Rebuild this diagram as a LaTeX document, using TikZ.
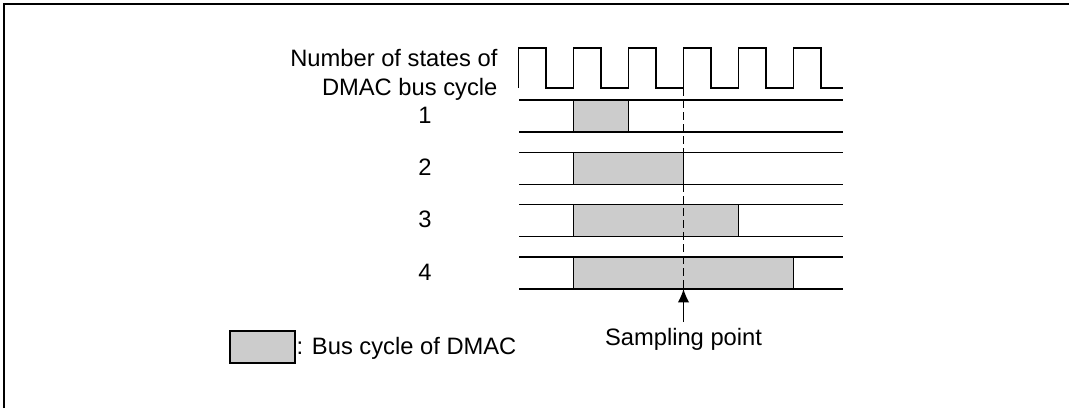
\documentclass[tikz,border=0pt]{standalone}
\usepackage{fontspec}
\setmainfont{Liberation Sans}
\usepackage{tikz}
\usetikzlibrary{positioning,arrows.meta}
\definecolor{busfill}{HTML}{CCCCCC}
\tikzset{lbl/.style={font=\fontsize{17.8}{21}\selectfont, inner sep=0pt}}

\begin{document}
\begin{tikzpicture}[>=Latex, x=0.75pt, y=-0.75pt, line width=0.9pt]
        \useasboundingbox (0,0) rectangle (1069,408);
        \draw[line width=1.5pt] (4,408) -- (4,4) -- (1069,4);
        % clock
        \draw (518.5,88) \foreach \k in {1,...,5}{ -- ++(0,-40) -- ++(27.5,0) -- ++(0,40) -- ++(27.5,0)}
          -- ++(0,-40) -- ++(27.5,0) -- ++(0,40) -- (843,88);
        \node[lbl, anchor=base east] (hdA) at (498,66) {Number of states of};
        \node[lbl, anchor=base east] (hdB) at (498,95) {DMAC bus cycle};
        % rows
        \foreach \r in {1,...,4}{
          \pgfmathsetmacro{\t}{100+52.3*(\r-1)}
          \draw (519,\t) -- (843,\t) (519,\t+32) -- (843,\t+32);
          \filldraw[fill=busfill] (573.5,\t) rectangle (573.5+55*\r,\t+32);
          \node[lbl] (row\r) at (425,\t+15) {\r};
        }
        \coordinate (clk) at (683.5,88);
        \coordinate (samp) at (683.5,289);
        \coordinate (tail) at (683.5,322);
        \draw[dash pattern=on 6pt off 3pt] (clk) -- (samp);
        \draw[-{Latex[length=10pt,width=8.5pt]}] (tail) -- (samp);
        \node[lbl, anchor=base] (spt) at (683.5,345) {Sampling point};
        % legend
        \filldraw[fill=busfill] (230,331) rectangle (295,363);
        \node[lbl, anchor=base west] (leg) at (296,354) {: Bus cycle of DMAC};
      \end{tikzpicture}
\end{document}
